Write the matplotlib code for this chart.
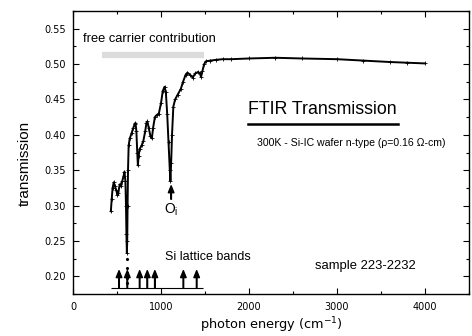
import matplotlib
matplotlib.use('Agg')
import matplotlib.pyplot as plt
from matplotlib.ticker import MultipleLocator

# FTIR transmission spectrum
energy = [430, 440, 450, 463, 475, 490, 505, 515, 530, 545, 560, 575, 585, 595,
          602, 607, 612, 616, 620, 625, 632, 645, 665, 685, 700, 710, 720, 730,
          737, 745, 757, 780, 800, 820, 835, 845, 860, 880, 896, 910, 930, 950,
          975, 1000, 1020, 1040, 1055, 1070, 1085, 1100, 1107, 1115, 1125, 1140,
          1160, 1190, 1225, 1250, 1280, 1300, 1330, 1360, 1390, 1422, 1440, 1455,
          1470, 1490, 1510, 1560, 1620, 1700, 1800, 2000, 2300, 2600, 3000, 3300,
          3600, 3800, 4000]
trans = [0.292, 0.310, 0.325, 0.333, 0.328, 0.322, 0.315, 0.318, 0.330, 0.327,
         0.335, 0.342, 0.348, 0.335, 0.300, 0.260, 0.233, 0.250, 0.300, 0.350,
         0.385, 0.395, 0.402, 0.410, 0.415, 0.417, 0.405, 0.375, 0.357, 0.370,
         0.380, 0.385, 0.392, 0.405, 0.417, 0.419, 0.410, 0.398, 0.395, 0.410,
         0.425, 0.428, 0.430, 0.445, 0.462, 0.468, 0.460, 0.430, 0.390, 0.350,
         0.335, 0.360, 0.400, 0.440, 0.450, 0.457, 0.465, 0.475, 0.485, 0.488,
         0.485, 0.481, 0.487, 0.489, 0.487, 0.482, 0.490, 0.500, 0.504, 0.505,
         0.506, 0.507, 0.507, 0.508, 0.509, 0.508, 0.507, 0.505, 0.503, 0.502,
         0.501]

# stray points below the 610 cm-1 dip
stray_x = [612, 614, 615, 616, 617]
stray_y = [0.225, 0.212, 0.205, 0.198, 0.190]

# Si lattice band positions (arrows)
bands = [523, 617, 757, 844, 930, 1254, 1405]

plt.rcParams['font.family'] = ['Liberation Sans', 'DejaVu Sans']

fig = plt.figure(figsize=(4.72, 3.36), dpi=100)
ax = fig.add_axes([0.1547, 0.125, 0.839, 0.842])

ax.plot([335, 1490], [0.513, 0.513], color='#dcdcdc', lw=4.5, solid_capstyle='butt')
ax.plot(energy, trans, color='black', lw=1.4, marker='+', ms=2.5, mew=0.6)
ax.plot(stray_x, stray_y, ls='none', marker='.', ms=2.5, color='black')

# Si lattice band arrows
arrow = dict(facecolor='black', edgecolor='black', width=0.4, headwidth=4,
             headlength=5, shrink=0)
ax.hlines(0.184, 430, 1475, color='black', lw=0.8)
for b in bands:
    ax.annotate('', xy=(b, 0.208), xytext=(b, 0.184), arrowprops=arrow)
ax.annotate('', xy=(1115, 0.328), xytext=(1115, 0.309), arrowprops=arrow)

ax.text(110, 0.536, 'free carrier contribution', fontsize=9.3, va='center')
ax.text(1985, 0.436, 'FTIR Transmission', fontsize=12.8, va='center')
ax.plot([1989, 3695], [0.416, 0.416], color='black', lw=1.8)
ax.text(2095, 0.389, '300K - Si-IC wafer n-type (\u03c1=0.16 \u03a9-cm)', fontsize=7.6, va='center')
ax.text(1115, 0.294, '$\\mathregular{O_i}$', fontsize=10, va='center', ha='center')
ax.text(1050, 0.228, 'Si lattice bands', fontsize=9, va='center')
ax.text(2750, 0.214, 'sample 223-2232', fontsize=9.4, va='center')

ax.set_xlim(0, 4500)
ax.set_ylim(0.175, 0.575)
ax.xaxis.set_major_locator(MultipleLocator(1000))
ax.xaxis.set_minor_locator(MultipleLocator(500))
ax.yaxis.set_major_locator(MultipleLocator(0.05))
ax.yaxis.set_minor_locator(MultipleLocator(0.025))
ax.yaxis.set_major_formatter(plt.FormatStrFormatter('%.2f'))
ax.tick_params(which='both', direction='in', top=True, right=True, width=0.8)
ax.tick_params(which='major', length=4)
ax.tick_params(which='minor', length=2.5)
for lab in ax.get_xticklabels() + ax.get_yticklabels():
    lab.set_family('DejaVu Sans')
    lab.set_fontsize(7)
ax.tick_params(axis='x', pad=6)
ax.tick_params(axis='y', pad=5)
for s in ax.spines.values():
    s.set_linewidth(1.0)

ax.set_xlabel('photon energy (cm$^{-1}$)', family='DejaVu Sans', fontsize=9.3)
ax.xaxis.set_label_coords(0.502, -0.075)
ax.set_ylabel('transmission', fontsize=11)
ax.yaxis.set_label_coords(-0.104, 0.46)

fig.savefig('out.png', dpi=100)
